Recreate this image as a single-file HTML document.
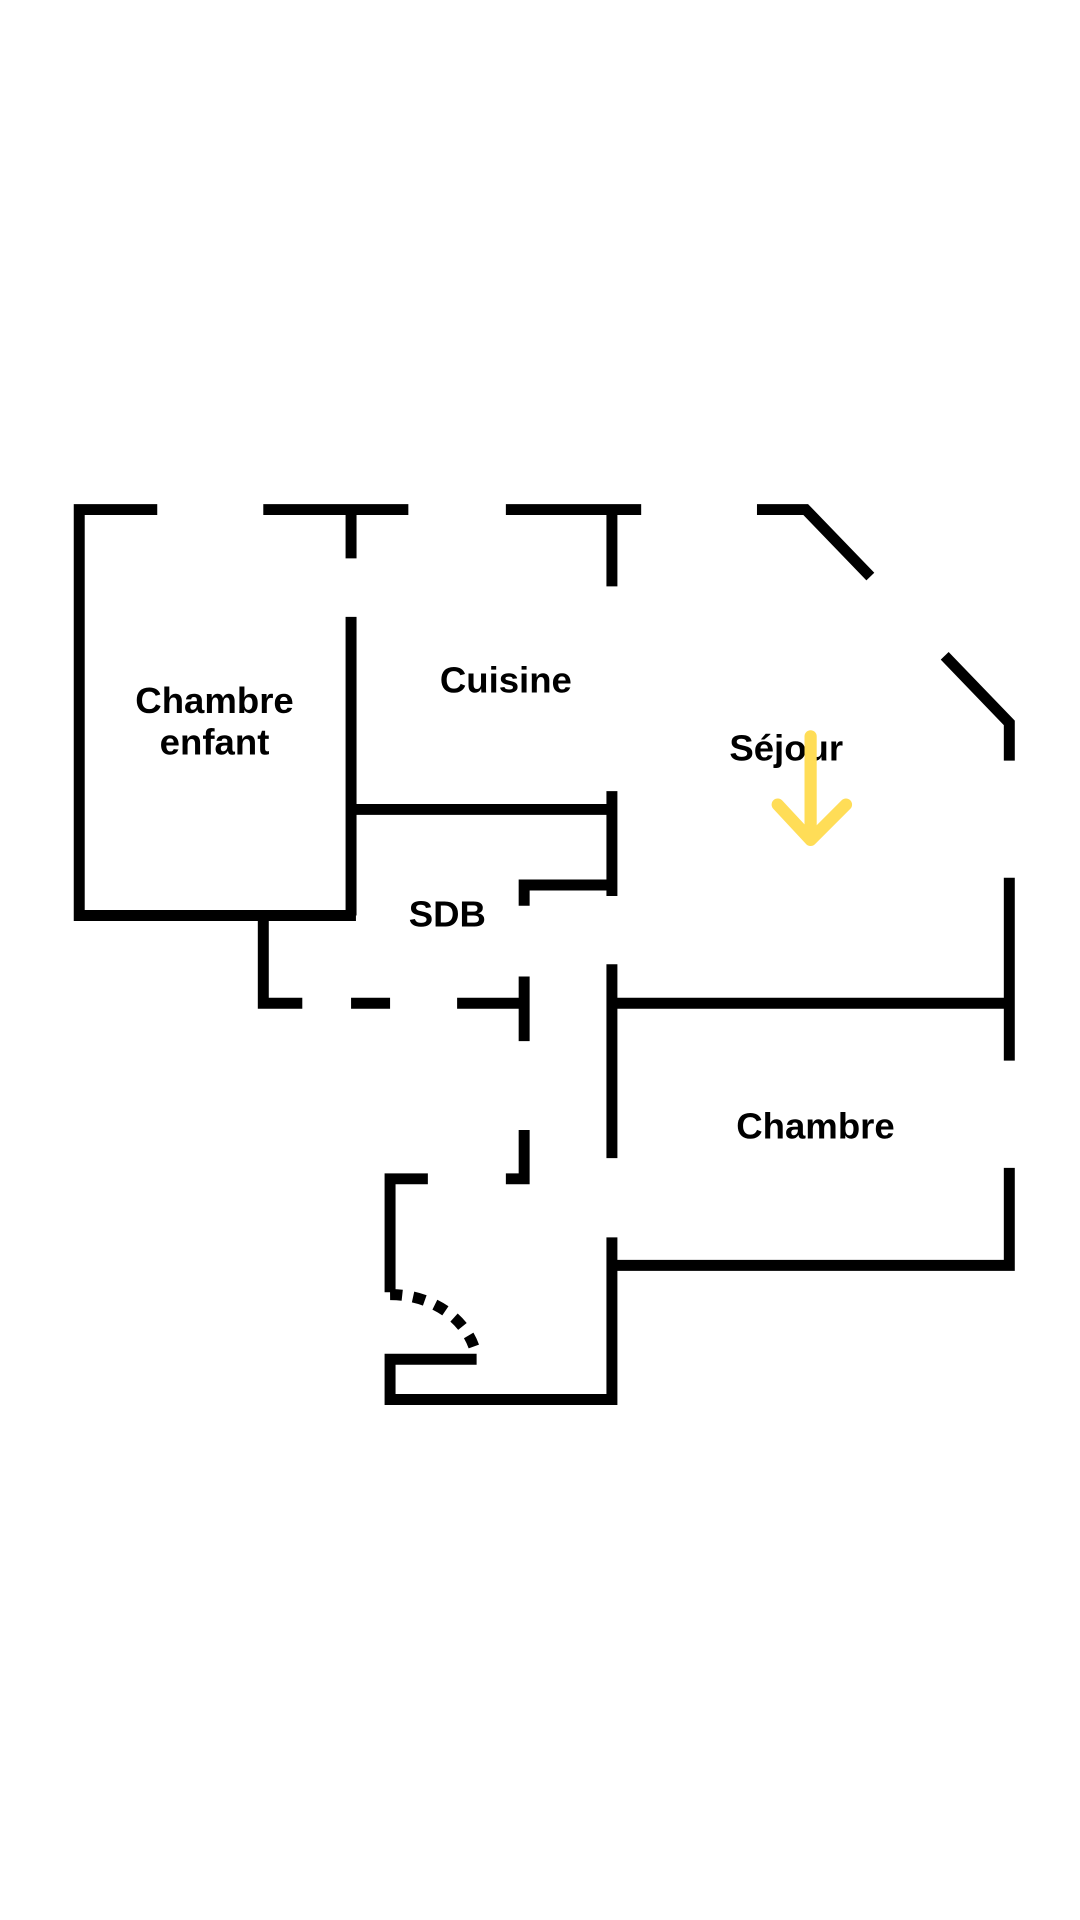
<!DOCTYPE html>
<html><head><meta charset="utf-8"><style>
html,body{margin:0;padding:0;background:#fff;}
svg{display:block;}
text{font-family:"Liberation Sans",sans-serif;font-weight:bold;fill:#000;}
</style></head><body>
<svg width="1080" height="1920" viewBox="0 0 886 1575" preserveAspectRatio="none" xmlns="http://www.w3.org/2000/svg">
<g transform="translate(2,3)">
<g stroke="#000" stroke-width="9" fill="none" stroke-linecap="butt" stroke-linejoin="miter">
<polyline points="127,415 63,415 63,748 290,748"/>
<line x1="214" y1="415" x2="333" y2="415"/>
<line x1="286" y1="415" x2="286" y2="455"/>
<line x1="413" y1="415" x2="524" y2="415"/>
<line x1="500" y1="415" x2="500" y2="478"/>
<polyline points="619,415 659,415 712,470"/>
<polyline points="773,535 826,590 826,621"/>
<line x1="826" y1="717" x2="826" y2="867"/>
<polyline points="826,955 826,1035 500,1035"/>
<line x1="286" y1="503" x2="286" y2="748"/>
<line x1="286" y1="661" x2="500" y2="661"/>
<line x1="500" y1="646" x2="500" y2="732"/>
<polyline points="428,740 428,723 500,723"/>
<polyline points="214,748 214,820 246,820"/>
<line x1="286" y1="820" x2="318" y2="820"/>
<line x1="373" y1="820" x2="428" y2="820"/>
<line x1="428" y1="798" x2="428" y2="851"/>
<line x1="500" y1="788" x2="500" y2="947"/>
<line x1="500" y1="820" x2="826" y2="820"/>
<polyline points="428,924 428,964 413,964"/>
<polyline points="349,964 318,964 318,1057"/>
<polyline points="389,1112 318,1112 318,1145 500,1145 500,1012"/>
<path d="M318,1059 A71,60 0 0 1 389,1110" stroke-dasharray="10,9"/>
</g>
<text x="174" y="582" font-size="30" text-anchor="middle">Chambre</text>
<text x="174" y="616" font-size="30" text-anchor="middle">enfant</text>
<text x="413" y="565" font-size="30" text-anchor="middle">Cuisine</text>
<text x="643" y="621" font-size="30" text-anchor="middle">Séjour</text>
<text x="365" y="757" font-size="30" text-anchor="middle">SDB</text>
<text x="667" y="931" font-size="30" text-anchor="middle">Chambre</text>
<g stroke="#FFDD57" stroke-width="10" fill="none" stroke-linecap="round" stroke-linejoin="round">
<line x1="663" y1="601" x2="663" y2="684"/>
<polyline points="636,657 663,686 692,657"/>
</g>
</g>
</svg>
</body></html>
